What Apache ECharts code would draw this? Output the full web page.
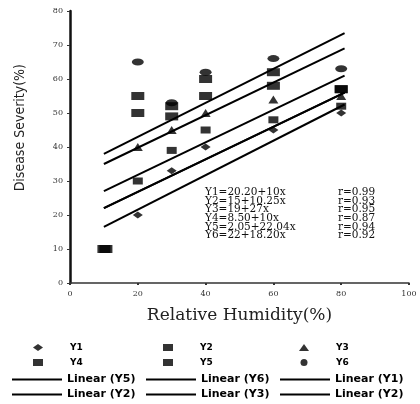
<!DOCTYPE html>
<html>
<head>
<meta charset="utf-8">
<script src="https://cdn.jsdelivr.net/npm/echarts@6/dist/echarts.min.js"></script>
<style>
  html, body { margin: 0; padding: 0; background: #fff; }
  #chart { width: 420px; height: 404px; }
</style>
</head>
<body>
<div id="chart"></div>
<script>
// humidity levels (x) and disease severity readings (y)
const humidity = [20, 30, 40, 60, 80];
const humidityY4 = [10, 20, 30, 40, 60, 80];
const humidityY5 = [10.6, 20, 30, 40, 60, 80];
const y1 = [20, 33, 40, 45, 50];
const y2 = [30, 39, 45, 48, 52];
const y3 = [40, 45, 50, 54, 55];
const y4 = [10, 50, 49, 55, 58, 57];
const y5 = [10, 55, 52, 60, 62, 57];
const y6 = [65, 53, 62, 66, 63];

// trend lines, start and end
const trendX = [10, 81];
const linY6 = [38, 73.5];
const linY5 = [35, 69];
const linY3 = [27, 61];
const linY2 = [22, 56];
const linY1 = [16.5, 52.5];

const equations = ['Y1=20.20+10x', 'Y2=15+10.25x', 'Y3=19+27x', 'Y4=8.50+10x', 'Y5=2.05+22.04x', 'Y6=22+18.20x'];
const rValues = ['r=0.99', 'r=0.93', 'r=0.95', 'r=0.87', 'r=0.94', 'r=0.92'];

const pairs = (xs, ys) => ys.map((v, i) => [xs[i], v]);

const chart = echarts.init(document.getElementById('chart'));

const scatter = (name, xs, ys, symbol, size) => ({
  name: name,
  type: 'scatter',
  symbol: symbol,
  symbolSize: size,
  itemStyle: { color: '#000' },
  data: pairs(xs, ys),
  z: 3
});
const trend = (name, ys) => ({
  name: name,
  type: 'line',
  symbol: 'none',
  showSymbol: false,
  lineStyle: { color: '#000', width: 2 },
  itemStyle: { color: '#000' },
  data: pairs(trendX, ys),
  z: 2
});

const markerLegend = (left, names) => ({
  orient: 'vertical',
  left: left,
  top: 338,
  height: 40,
  itemWidth: 10,
  itemHeight: 7,
  itemGap: 6,
  data: names,
  textStyle: { fontFamily: 'DejaVu Sans', fontWeight: 'bold', fontSize: 9, color: '#000', padding: [0, 0, 0, 22] }
});
const lineLegend = (left, names) => ({
  orient: 'vertical',
  left: left,
  top: 368,
  height: 40,
  icon: 'rect',
  itemWidth: 50,
  itemHeight: 2,
  itemGap: 2,
  data: names,
  textStyle: { fontFamily: 'DejaVu Sans', fontWeight: 'bold', fontSize: 11, lineHeight: 13, color: '#000' }
});

chart.setOption({
  animation: false,
  backgroundColor: '#fff',
  grid: { left: 70, right: 11, top: 11, bottom: 121 },
  xAxis: {
    type: 'value',
    min: 0, max: 100, interval: 20,
    name: 'Relative Humidity(%)',
    nameLocation: 'middle',
    nameGap: 24,
    nameTextStyle: { fontFamily: 'DejaVu Serif', fontSize: 17, color: '#222' },
    axisLine: { lineStyle: { color: '#333', width: 1.5 } },
    axisTick: { length: 2, lineStyle: { color: '#333', width: 2 } },
    axisLabel: { fontFamily: 'DejaVu Serif', fontSize: 8, color: '#333', margin: 7 },
    splitLine: { show: false }
  },
  yAxis: {
    type: 'value',
    min: 0, max: 80, interval: 10,
    axisLine: { show: true, lineStyle: { color: '#111', width: 2.5 } },
    axisTick: { show: true, length: 3, lineStyle: { color: '#333', width: 1 } },
    axisLabel: { fontFamily: 'DejaVu Serif', fontSize: 8, color: '#333', margin: 7 },
    splitLine: { show: false }
  },
  legend: [
    markerLegend(28, ['Y1', 'Y4']),
    markerLegend(158, ['Y2', 'Y5']),
    markerLegend(294, ['Y3', 'Y6']),
    lineLegend(7, ['Linear (Y5)', 'Linear (Y2)']),
    lineLegend(141, ['Linear (Y6)', 'Linear (Y3)']),
    lineLegend(275, ['Linear (Y1)', 'Linear (Y2) '])
  ],
  graphic: [
    {
      type: 'text', left: 13, top: 64, rotation: Math.PI / 2,
      style: { text: 'Disease Severity(%)', font: '14px "Liberation Sans Narrow", "DejaVu Sans Condensed", sans-serif', fill: '#222' }
    },
    {
      type: 'text', left: 205, top: 187,
      style: { text: equations.join('\n'), font: '10.5px "DejaVu Serif", serif', lineHeight: 8.6, fill: '#111' }
    },
    {
      type: 'text', left: 338, top: 187,
      style: { text: rValues.join('\n'), font: '10.5px "DejaVu Serif", serif', lineHeight: 8.6, fill: '#111' }
    }
  ],
  series: [
    scatter('Y1', humidity, y1, 'diamond', [10, 7]),
    scatter('Y2', humidity, y2, 'rect', [10, 7]),
    scatter('Y3', humidity, y3, 'triangle', [10, 8]),
    scatter('Y4', humidityY4, y4, 'rect', [13, 8]),
    scatter('Y5', humidityY5, y5, 'rect', [13, 8]),
    scatter('Y6', humidity, y6, 'circle', [12, 7]),
    trend('Linear (Y5)', linY5),
    trend('Linear (Y6)', linY6),
    trend('Linear (Y1)', linY1),
    trend('Linear (Y2)', linY2),
    trend('Linear (Y3)', linY3),
    trend('Linear (Y2) ', linY2)
  ]
});
</script>
</body>
</html>
